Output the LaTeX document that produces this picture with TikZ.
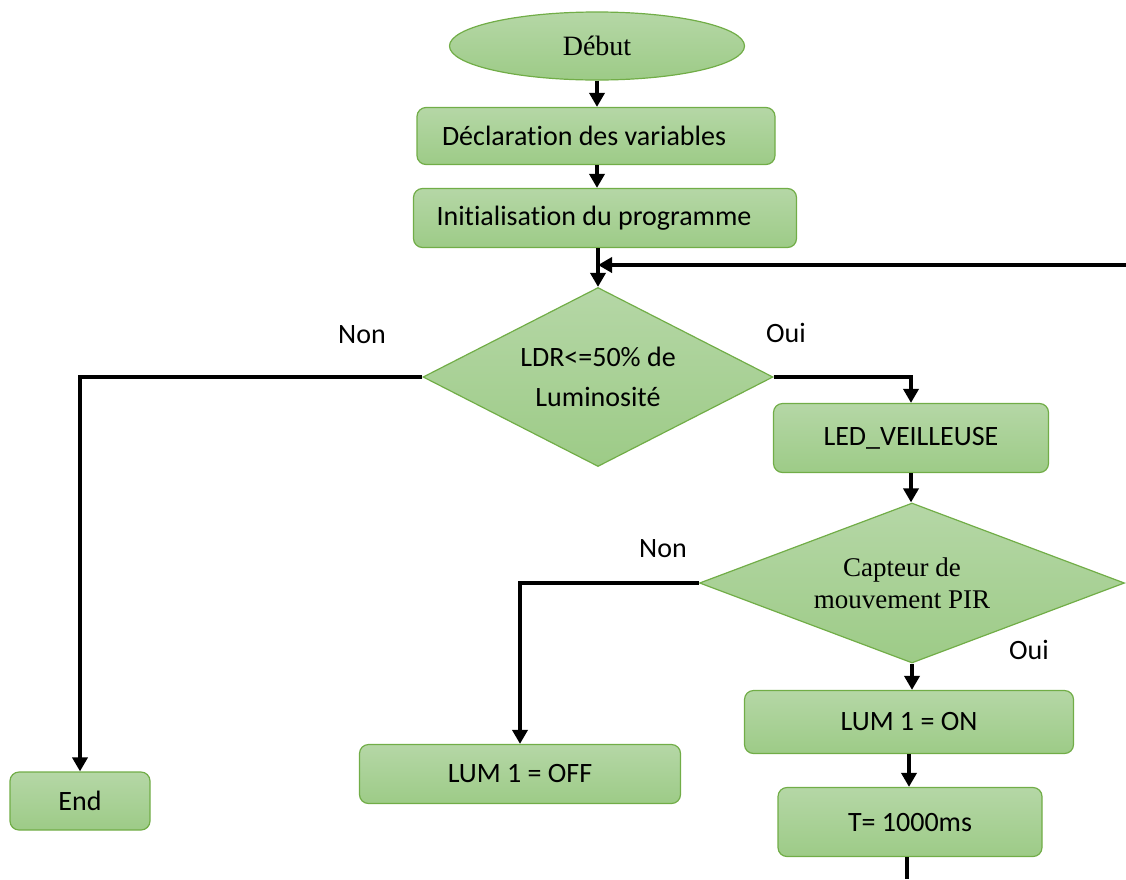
\documentclass[tikz,border=0pt]{standalone}
\usepackage{fontspec}
\setmainfont[Ligatures=NoCommon]{Carlito}
\newfontfamily\timesfont{Liberation Serif}
\usetikzlibrary{shapes.geometric,arrows.meta,positioning,calc}

\definecolor{boxtop}{HTML}{B5D7A6}
\definecolor{boxbot}{HTML}{9DCB87}
\definecolor{boxline}{HTML}{71AD47}

\tikzset{
  flowbox/.style={draw=boxline, line width=1.2pt, rounded corners=9pt, top color=boxtop, bottom color=boxbot, inner sep=0pt, font=\fontsize{28}{34}\selectfont},
  decision/.style={diamond, draw=boxline, line width=1.2pt, top color=boxtop, bottom color=boxbot, inner sep=0pt, align=center},
  link/.style={line width=3.5pt, -{Triangle[length=14pt,width=15pt]}},
  plain/.style={line width=3.5pt},
  answer/.style={font=\fontsize{28}{34}\selectfont}
}

\begin{document}
\begin{tikzpicture}[x=1pt, y=-1pt]
    \useasboundingbox (0,0) rectangle (1126,879);

    % Start and set-up
    \node[flowbox, ellipse, minimum width=295pt, minimum height=68pt, font=\timesfont\fontsize{28}{34}\selectfont] (start) at (597,46) {Début};
    \node[flowbox, minimum width=358pt, minimum height=57pt] (decl) at (596,136) {Déclaration des variables\kern24pt};
    \node[flowbox, minimum width=383pt, minimum height=59pt] (init) at (605,218) {Initialisation du programme\kern22pt};

    % Light test
    \node[decision, aspect=1.96, minimum width=350pt, minimum height=179pt, font=\fontsize{28}{40}\selectfont] (ldr) at (598,377) {LDR<=50\% de\\Luminosité};
    \node[flowbox, minimum width=140pt, minimum height=58pt] (finish) at (80,801) {End};
    \node[flowbox, minimum width=275pt, minimum height=69pt] (veille) at (911,438) {LED\_VEILLEUSE};

    % Motion test
    \node[decision, aspect=2.66, minimum width=425pt, minimum height=160pt, font=\timesfont\fontsize{27}{32}\selectfont] (pir) at (912,583) {Capteur de\kern20pt\\mouvement PIR\kern20pt};
    \node[flowbox, minimum width=321pt, minimum height=59pt] (lumoff) at (520,774) {LUM 1 = OFF};
    \node[flowbox, minimum width=329pt, minimum height=63pt] (lumon) at (909,722) {LUM 1 = ON};
    \node[flowbox, minimum width=264pt, minimum height=69pt] (wait) at (910,822) {T= 1000ms};

    % Free ends of the loop
    \coordinate (loopin) at (1126,265);
    \coordinate (tail) at (907,879);

    % Arrows
    \draw[link] (start.south) -- (start.south |- decl.north);
    \draw[link] (decl.south -| start.south) -- (start.south |- init.north);
    \draw[link] (init.south -| ldr.north) -- (ldr.north);
    \draw[link] (loopin) -- (loopin -| ldr.north);
    \draw[link] (ldr.west) -| (finish.north);
    \draw[link] (ldr.east) -| (veille.north);
    \draw[link] (veille.south) -- (veille.south |- pir.north);
    \draw[link] (pir.west) -| (lumoff.north);
    \draw[link] (pir.south) -- (pir.south |- lumon.north);
    \draw[link] (lumon.south) -- (lumon.south |- wait.north);
    \draw[plain] (tail |- wait.south) -- (tail);

    % Labels
    \node[answer] (ldrno) at (362,335) {Non};
    \node[answer] (ldryes) at (786,333) {Oui};
    \node[answer] (pirno) at (663,549) {Non};
    \node[answer] (piryes) at (1029,650) {Oui};
\end{tikzpicture}
\end{document}
